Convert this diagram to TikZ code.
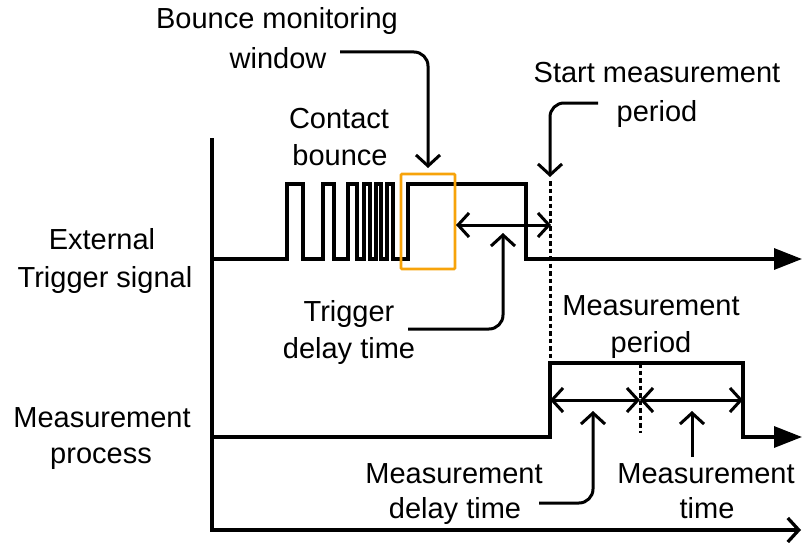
\documentclass[tikz,border=0pt]{standalone}
\usepackage{fontspec}
\setmainfont{Liberation Sans}
\usetikzlibrary{arrows.meta}
\definecolor{winorange}{RGB}{247,163,10}
\begin{document}
\begin{tikzpicture}[x=1pt,y=-1pt,
  sig/.style={line width=3.3pt, line join=miter},
  lbl/.style={anchor=base, inner sep=0pt, font=\fontsize{29}{38}\selectfont},
  barb/.style={line width=3pt, rounded corners=14pt, -{Straight Barb[length=11pt,width=24pt]}},
  dbl/.style={line width=3pt, {Straight Barb[length=11pt,width=24pt]}-{Straight Barb[length=11pt,width=24pt]}},
  tri/.style={-{Triangle[length=28pt,width=21pt]}},
  dotline/.style={line width=3pt, dash pattern=on 4.5pt off 3pt},
  winbox/.style={line width=2.8pt, draw=winorange, rounded corners=1pt}
]
\useasboundingbox (0,0) rectangle (803,543);

% axes
\coordinate (axtop) at (212,138);
\coordinate (axorigin) at (212,530);
\coordinate (axend) at (801,530);
\draw[sig, -{Straight Barb[length=11pt,width=24pt]}] (axtop) -- (axorigin) -- (axend);

% external trigger signal
\coordinate (ts0) at (212,259);
\coordinate (tsend) at (802,259);
\draw[sig, tri] (ts0) -- (287,259) -- (287,184) -- (303,184) -- (303,259)
  -- (323,259) -- (323,184) -- (334,184) -- (334,259)
  -- (348,259) -- (348,184) -- (357,184) -- (357,259)
  -- (364,259) -- (364,184) -- (370,184) -- (370,259)
  -- (376,259) -- (376,184) -- (381,184) -- (381,259)
  -- (387,259) -- (387,184) -- (393,184) -- (393,259)
  -- (408,259) -- (408,184) -- (526,184) -- (526,259) -- (tsend);

% measurement process signal
\coordinate (ms0) at (212,437);
\coordinate (msrise) at (550,363);
\coordinate (msmid) at (640,363);
\coordinate (msend) at (802,437);
\draw[sig, tri] (ms0) -- (550,437) -- (msrise) -- (743,363) -- (743,437) -- (msend);

% bounce monitoring window
\draw[winbox] (401,174) rectangle (455,269);

% dotted lines
\coordinate (startdot) at (550,181);
\coordinate (middot) at (640,433);
\draw[dotline] (startdot) -- (msrise);
\draw[dotline] (msmid) -- (middot);

% double arrows
\coordinate (tdL) at (456,225);
\coordinate (tdR) at (551,225);
\draw[dbl] (tdL) -- (tdR);
\coordinate (mdL) at (550,400);
\coordinate (mdM) at (640,400);
\coordinate (mdR) at (743,400);
\draw[dbl] (mdL) -- (mdM);
\draw[dbl] (mdM) -- (mdR);

% labels
\node[lbl] (bm1) at (277,29) {Bounce monitoring};
\node[lbl] (bm2) at (278,68) {window};
\node[lbl] (cb1) at (339,128) {Contact};
\node[lbl] (cb2) at (340,165) {bounce};
\node[lbl] (sm1) at (657,82) {Start measurement};
\node[lbl] (sm2) at (657,121) {period};
\node[lbl] (et1) at (102,249) {External};
\node[lbl] (et2) at (105,287) {Trigger signal};
\node[lbl] (mp1) at (102,427) {Measurement};
\node[lbl] (mp2) at (101,463) {process};
\node[lbl] (td1) at (349,321) {Trigger};
\node[lbl] (td2) at (349,358) {delay time};
\node[lbl] (mpd1) at (651,315) {Measurement};
\node[lbl] (mpd2) at (651,352) {period};
\node[lbl] (mdt1) at (454,483) {Measurement};
\node[lbl] (mdt2) at (455,518) {delay time};
\node[lbl] (mt1) at (706,483) {Measurement};
\node[lbl] (mt2) at (707,518) {time};

% pointers
\coordinate (bmS) at (340,52);
\coordinate (bmT) at (428,168);
\draw[barb] (bmS) -| (bmT);
\coordinate (smS) at (598,103);
\coordinate (smT) at (550,177);
\draw[barb] (smS) -| (smT);
\coordinate (tdS) at (408,329);
\coordinate (tdT) at (503,233);
\draw[barb] (tdS) -| (tdT);
\coordinate (mdS) at (539,503);
\coordinate (mdT) at (593,411);
\draw[barb] (mdS) -| (mdT);
\coordinate (mtS) at (692,457);
\coordinate (mtT) at (692,411);
\draw[barb] (mtS) -- (mtT);
\end{tikzpicture}
\end{document}
